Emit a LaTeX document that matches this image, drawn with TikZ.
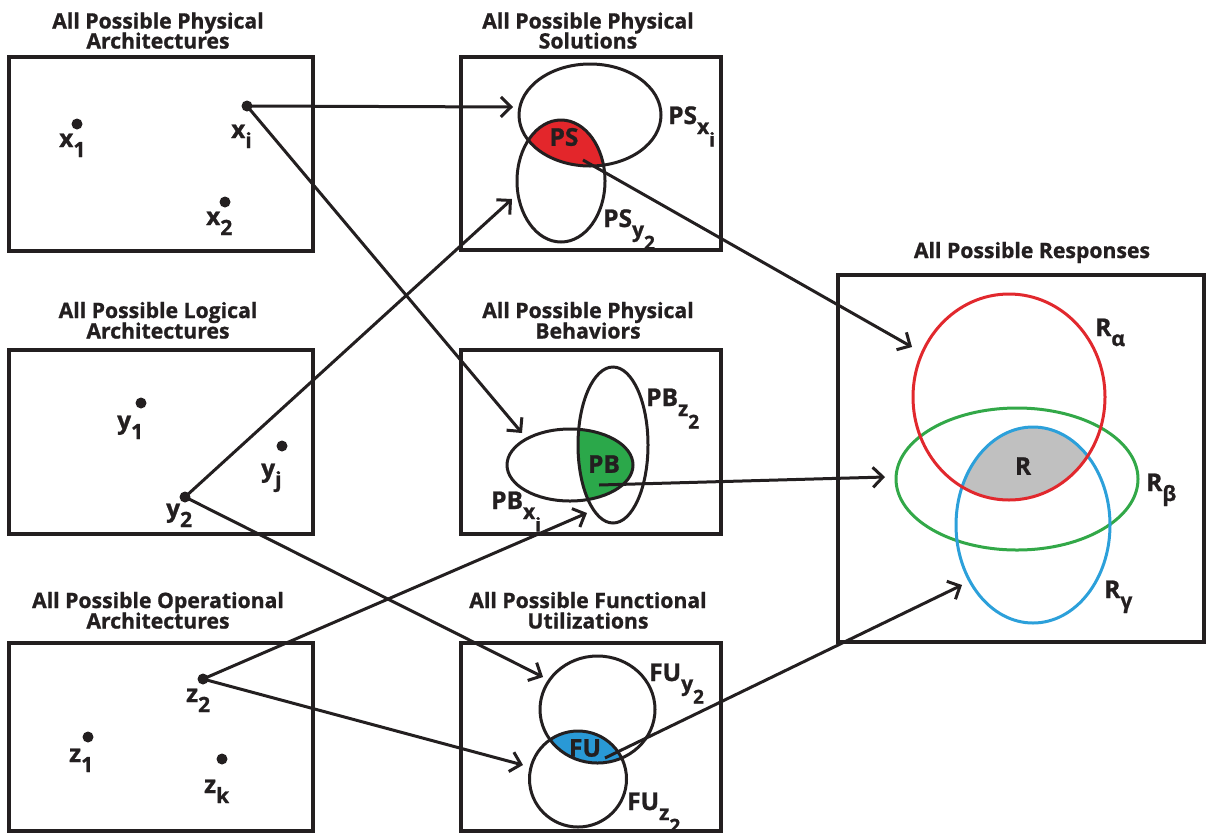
\documentclass[tikz,border=0pt]{standalone}
\usepackage{fontspec}
\setmainfont{Open Sans}[BoldFeatures={FakeBold=1.0}]
\usetikzlibrary{arrows.meta,fit}

\definecolor{ink}{RGB}{35,31,32}
\definecolor{psred}{RGB}{227,38,43}
\definecolor{pbgreen}{RGB}{43,168,74}
\definecolor{fublue}{RGB}{41,153,214}
\definecolor{rred}{RGB}{225,40,45}
\definecolor{rgreen}{RGB}{50,168,72}
\definecolor{rblue}{RGB}{44,160,218}
\definecolor{rgray}{RGB}{192,192,192}

% subscript and second-level subscript, set low and large
\newcommand\sbs[1]{\raisebox{-10pt}{\fontsize{21}{21}\selectfont #1}}
\newcommand\ssbs[1]{\raisebox{-12.5pt}{\fontsize{19}{19}\selectfont #1}}

\begin{document}
\begin{tikzpicture}[x=1pt,y=-1pt,
  box/.style={draw=ink,line width=3.3pt,inner sep=0pt},
  title/.style={font=\bfseries\fontsize{21.2}{21}\selectfont,text=ink,inner sep=0pt,anchor=base},
  lab/.style={font=\bfseries\fontsize{24.5}{24}\selectfont,text=ink,inner sep=0pt,anchor=base west},
  mid/.style={font=\bfseries\fontsize{24.5}{24}\selectfont,text=ink,inner sep=0pt},
  dot/.style={circle,fill=ink,inner sep=0pt,minimum size=11pt},
  conn/.style={draw=ink,line width=3pt,-{Straight Barb[length=10pt,width=20pt]}},
  venn/.style={draw=ink,line width=3pt},
  rset/.style={line width=3pt}]
\useasboundingbox (0,0) rectangle (1206,836);

% ---------- frames ----------
\node[box,fit={(9,57) (313,251)}]   (pa) {};
\node[box,fit={(9,350) (313,534)}]  (la) {};
\node[box,fit={(9,643) (313,831)}]  (oa) {};
\node[box,fit={(461,57) (721,250)}] (ps) {};
\node[box,fit={(461,350) (721,534)}] (pb) {};
\node[box,fit={(461,643) (721,831)}] (fu) {};
\node[box,fit={(838,275) (1204,642)}] (rs) {};

% ---------- titles ----------
\node[title] (tpa1) at (158,28.5) {All Possible Physical};
\node[title] (tpa2) at (158,48.5) {Architectures};
\node[title] (tla1) at (158,318) {All Possible Logical};
\node[title] (tla2) at (158,338.5) {Architectures};
\node[title] (toa1) at (158,608) {All Possible Operational};
\node[title] (toa2) at (158,628.5) {Architectures};
\node[title] (tps1) at (588,28.5) {All Possible Physical};
\node[title] (tps2) at (588,48.5) {Solutions};
\node[title] (tpb1) at (588,318) {All Possible Physical};
\node[title] (tpb2) at (588,338.5) {Behaviors};
\node[title] (tfu1) at (588,608) {All Possible Functional};
\node[title] (tfu2) at (588,628.5) {Utilizations};
\node[title] (trs)  at (1032,258) {All Possible Responses};

% ---------- intersections ----------
\begin{scope}
  \clip (590,115) ellipse [x radius=71pt,y radius=51pt];
  \fill[psred] (561,181) ellipse [x radius=44pt,y radius=61pt];
\end{scope}
\begin{scope}
  \clip (570,465) ellipse [x radius=63pt,y radius=36pt];
  \fill[pbgreen] (613,445) ellipse [x radius=35pt,y radius=78pt];
\end{scope}
\begin{scope}
  \clip (597.5,709.5) ellipse [x radius=57.5pt,y radius=53.5pt];
  \fill[fublue] (578,779) ellipse [x radius=48.5pt,y radius=48pt];
\end{scope}
\begin{scope}
  \clip (1009,397) ellipse [x radius=96pt,y radius=103pt];
  \fill[rgray] (1033,525) ellipse [x radius=77pt,y radius=98pt];
\end{scope}

% ---------- sets ----------
\draw[venn] (590,115) ellipse [x radius=71pt,y radius=51pt];
\draw[venn] (561,181) ellipse [x radius=44pt,y radius=61pt];
\draw[venn] (570,465) ellipse [x radius=63pt,y radius=36pt];
\draw[venn] (613,445) ellipse [x radius=35pt,y radius=78pt];
\draw[venn] (597.5,709.5) ellipse [x radius=57.5pt,y radius=53.5pt];
\draw[venn] (578,779) ellipse [x radius=48.5pt,y radius=48pt];
\draw[rset,draw=rgreen] (1017,479) ellipse [x radius=121pt,y radius=71pt];
\draw[rset,draw=rblue]  (1033,525) ellipse [x radius=77pt,y radius=98pt];
\draw[rset,draw=rred]   (1009,397) ellipse [x radius=96pt,y radius=103pt];

% ---------- set labels ----------
\node[mid] (lps) at (564,137) {PS};
\node[mid] (lpb) at (604,464) {PB};
\node[mid] (lfu) at (585,748) {FU};
\node[mid] (lr)  at (1023,466) {R};
\node[lab] (lpsx) at (668,124) {PS\sbs{x\ssbs{i}}};
\node[lab] (lpsy) at (603,227) {PS\sbs{y\ssbs{2}}};
\node[lab] (lpbz) at (646,406) {PB\sbs{z\ssbs{2}}};
\node[lab] (lpbx) at (491,509) {PB\sbs{x\ssbs{i}}};
\node[lab] (lfuy) at (649,681) {FU\sbs{y\ssbs{2}}};
\node[lab] (lfuz) at (627,810) {FU\sbs{z\ssbs{2}}};
\node[lab] (lra) at (1095,336) {R\sbs{α}};
\node[lab] (lrb) at (1146,491) {R\sbs{β}};
\node[lab] (lrg) at (1104,598) {R\sbs{γ}};

% ---------- architecture points ----------
\node[dot] (x1) at (77,124) {};
\node[dot] (xi) at (247,106) {};
\node[dot] (x2) at (225,202) {};
\node[dot] (y1) at (141,403) {};
\node[dot] (yj) at (282,446) {};
\node[dot] (y2) at (185,497) {};
\node[dot] (z2) at (203,679) {};
\node[dot] (z1) at (88,737) {};
\node[dot] (zk) at (222,759) {};

\node[lab] (lx1) at (59,147) {x\sbs{1}};
\node[lab] (lxi) at (231,138) {x\sbs{i}};
\node[lab] (lx2) at (206,225) {x\sbs{2}};
\node[lab] (ly1) at (117,429) {y\sbs{1}};
\node[lab] (lyj) at (261,477) {y\sbs{j}};
\node[lab] (ly2) at (166,517) {y\sbs{2}};
\node[lab] (lz2) at (186,702) {z\sbs{2}};
\node[lab] (lz1) at (69,762) {z\sbs{1}};
\node[lab] (lzk) at (204,793) {z\sbs{k}};

% ---------- connector ends ----------
\coordinate (psin1) at (513,107);
\coordinate (psin2) at (512,199);
\coordinate (pbin1) at (522,433);
\coordinate (pbin2) at (587,513);
\coordinate (fuin1) at (543,677);
\coordinate (fuin2) at (523,765);
\coordinate (psout) at (583,160);
\coordinate (pbout) at (599,485);
\coordinate (fuout) at (605,758);
\coordinate (rin1) at (912,347);
\coordinate (rin2) at (885,477);
\coordinate (rin3) at (962,585);

% ---------- connectors ----------
\draw[conn] (xi.center) -- (psin1);
\draw[conn] (xi.center) -- (pbin1);
\draw[conn] (y2.center) -- (psin2);
\draw[conn] (y2.center) -- (fuin1);
\draw[conn] (z2.center) -- (pbin2);
\draw[conn] (z2.center) -- (fuin2);
\draw[conn] (psout) -- (rin1);
\draw[conn] (pbout) -- (rin2);
\draw[conn] (fuout) -- (rin3);
\end{tikzpicture}
\end{document}
